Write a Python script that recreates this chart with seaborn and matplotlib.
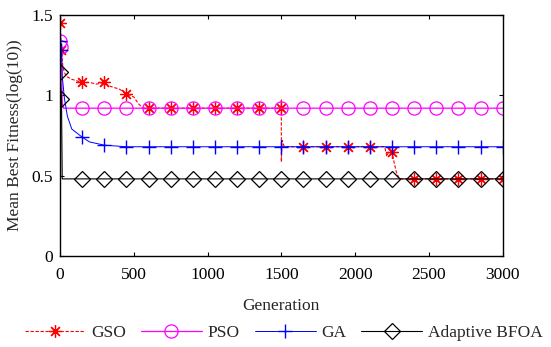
import numpy as np
import pandas as pd
import matplotlib
matplotlib.use("Agg")
import matplotlib.pyplot as plt
import seaborn as sns

# ---------------- data ----------------
gso_gen = [0, 10, 20, 40, 80, 150, 200, 250, 300, 330, 360, 400, 450, 500, 530, 560,
           600, 750, 900, 1050, 1200, 1350, 1500, 1500, 1500, 1505, 1520,
           1650, 1800, 1950, 2100, 2200, 2215, 2235, 2250, 2260, 2280, 2300,
           2400, 2550, 2700, 2850, 3000]
gso_val = [1.45, 1.28, 1.17, 1.12, 1.10, 1.08, 1.08, 1.07, 1.08, 1.06, 1.05, 1.04, 1.01, 0.99, 0.95, 0.92,
           0.92, 0.92, 0.92, 0.92, 0.92, 0.92, 0.92, 0.97, 0.585, 0.72, 0.68,
           0.68, 0.68, 0.68, 0.68, 0.68, 0.62, 0.67, 0.65, 0.60, 0.52, 0.48,
           0.48, 0.48, 0.48, 0.48, 0.48]

pso_gen = [0, 10, 15, 25, 150, 300, 450, 600, 750, 900, 1050, 1200, 1350, 1500,
           1650, 1800, 1950, 2100, 2250, 2400, 2550, 2700, 2850, 3000]
pso_val = [1.34, 1.30, 0.95, 0.92, 0.92, 0.92, 0.92, 0.92, 0.92, 0.92, 0.92, 0.92, 0.92, 0.92,
           0.92, 0.92, 0.92, 0.92, 0.92, 0.92, 0.92, 0.92, 0.92, 0.92]

ga_gen = [0, 10, 15, 30, 50, 80, 150, 200, 300, 450, 600, 750, 900, 1050, 1200, 1350, 1500,
          1650, 1800, 1950, 2100, 2250, 2400, 2550, 2700, 2850, 3000]
ga_val = [1.34, 1.28, 1.12, 0.98, 0.87, 0.79, 0.74, 0.71, 0.69, 0.68, 0.68, 0.68, 0.68, 0.68, 0.68, 0.68, 0.68,
          0.68, 0.68, 0.68, 0.68, 0.68, 0.68, 0.68, 0.68, 0.68, 0.68]

bfoa_gen = [0, 10, 15, 150, 300, 450, 600, 750, 900, 1050, 1200, 1350, 1500,
            1650, 1800, 1950, 2100, 2250, 2400, 2550, 2700, 2850, 3000]
bfoa_val = [1.145, 0.98, 0.48, 0.48, 0.48, 0.48, 0.48, 0.48, 0.48, 0.48, 0.48, 0.48, 0.48,
            0.48, 0.48, 0.48, 0.48, 0.48, 0.48, 0.48, 0.48, 0.48, 0.48]

labels = ["GSO", "PSO", "GA", "Adaptive BFOA"]
x_ticks = [0, 500, 1000, 1500, 2000, 2500, 3000]
y_ticks = [0, 0.5, 1, 1.5]
y_tick_labels = ["0", "0.5", "1", "1.5"]
x_label = "Generation"
y_label = "Mean Best Fitness(log(10))"

# ---------------- style ----------------
sns.set_theme(style="white")
plt.rcParams["font.family"] = ["Liberation Serif", "DejaVu Serif"]

fig = plt.figure(figsize=(5.51, 3.47), dpi=100)
ax = fig.add_axes([0.1089, 0.2622, 0.8034, 0.6946])


def marker_mask(gens):
    mask = []
    for i, g in enumerate(gens):
        first = i == 0 or gens[i - 1] != g
        mask.append(bool(first and (g % 150 == 0 or g == 10)))
    return mask


series = [
    (gso_gen, gso_val, dict(color="#ff0000", linestyle=(0, (3, 1.5)), linewidth=0.8,
                            marker=(8, 2, 0), markersize=9, markeredgewidth=0.9,
                            markeredgecolor="#ff0000")),
    (pso_gen, pso_val, dict(color="#ff00ff", linestyle="-", linewidth=0.9,
                            marker="o", markersize=9.5, markerfacecolor="none",
                            markeredgewidth=0.9, markeredgecolor="#ff00ff")),
    (ga_gen, ga_val, dict(color="#0000ff", linestyle="-", linewidth=0.7,
                          marker="+", markersize=10, markeredgewidth=1.0,
                          markeredgecolor="#0000ff")),
    (bfoa_gen, bfoa_val, dict(color="#000000", linestyle="-", linewidth=0.8,
                              marker="D", markersize=8, markerfacecolor="none",
                              markeredgewidth=0.9, markeredgecolor="#000000")),
]

handles = []
for (g, v, st), lab in zip(series, labels):
    df = pd.DataFrame({"gen": g, "val": v})
    n_before = len(ax.lines)
    sns.lineplot(data=df, x="gen", y="val", ax=ax, estimator=None, sort=False,
                 color=st["color"], linewidth=st["linewidth"], legend=False)
    line = ax.lines[n_before]
    line.set(**st)
    line.set_markevery(marker_mask(g))
    line.set_label(lab)
    handles.append(line)

ax.set_xlim(0, 3000)
ax.set_ylim(0, 1.5)
ax.set_xticks(x_ticks)
ax.set_xticklabels([str(t) for t in x_ticks])
ax.set_yticks(y_ticks)
ax.set_yticklabels(y_tick_labels)
ax.tick_params(axis="x", pad=8)
ax.tick_params(direction="in", length=3, width=0.8, top=True, right=True,
               bottom=True, left=True, labelsize=12.5, colors="black")
ax.tick_params(axis="y", pad=5)
for s in ax.spines.values():
    s.set_visible(True)
    s.set_color("black")
    s.set_linewidth(1.0)
ax.set_xlabel(x_label, fontsize=12.5, labelpad=11)
ax.set_ylabel(y_label, fontsize=12.5, labelpad=6)
ax.grid(False)

ax.legend(handles=handles, labels=labels, loc="center", bbox_to_anchor=(0.515, 0.04),
          bbox_transform=fig.transFigure, ncol=4, frameon=False, fontsize=12.5,
          handlelength=3.5, handletextpad=0.35, columnspacing=0.85, borderaxespad=0,
          numpoints=1, markerfirst=True)

fig.savefig("out.png", dpi=100)
